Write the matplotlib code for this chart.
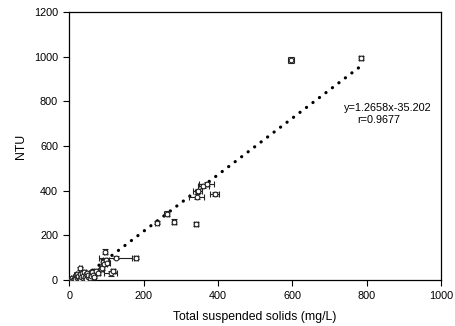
import numpy as np
import matplotlib
matplotlib.use("Agg")
import matplotlib.pyplot as plt

plt.rcParams['font.family'] = ['Liberation Sans', 'DejaVu Sans']

# TSS (mg/L) vs turbidity (NTU), with standard deviations
tss = [5, 8, 10, 12, 15, 16, 18, 20, 22, 24, 25, 28, 30, 30, 32, 35, 36, 38, 40, 42,
       45, 46, 48, 50, 52, 55, 58, 60, 62, 65, 68, 72, 78, 85, 88, 92, 95, 97, 100, 103,
       112, 118, 125, 180, 236, 262, 282, 341, 343, 346, 361, 370, 392, 598, 785]
ntu = [3, 10, 2, 6, 15, 4, 22, 8, 28, 12, 18, 5, 25, 52, 14, 30, 8, 20, 38, 12,
       25, 4, 32, 15, 22, 10, 28, 18, 35, 24, 12, 40, 30, 48, 55, 82, 72, 127, 90, 78,
       30, 42, 100, 100, 257, 297, 262, 250, 373, 398, 420, 430, 386, 985, 995]
tss_sd = [2, 3, 2, 3, 3, 2, 4, 3, 4, 3, 3, 2, 4, 4, 3, 4, 3, 4, 5, 3,
          4, 2, 5, 3, 4, 3, 4, 4, 5, 4, 3, 5, 5, 6, 6, 6, 8, 4, 8, 6,
          18, 6, 45, 6, 6, 6, 6, 6, 20, 12, 15, 20, 12, 8, 6]
ntu_sd = [3, 4, 3, 4, 5, 3, 6, 4, 6, 4, 5, 3, 6, 8, 4, 6, 3, 5, 6, 4,
          6, 3, 6, 4, 6, 4, 6, 5, 8, 6, 4, 8, 8, 8, 8, 10, 10, 12, 10, 10,
          12, 8, 6, 8, 8, 10, 12, 8, 12, 10, 8, 10, 8, 12, 8]

slope = 1.2658
intercept = -35.202
r_value = 0.9677

fig, ax = plt.subplots(figsize=(4.55, 3.26), dpi=100)
fig.subplots_adjust(left=0.152, right=0.969, top=0.963, bottom=0.141)

ax.errorbar(tss, ntu, xerr=tss_sd, yerr=ntu_sd, fmt='o', ms=3.4, mfc='white',
            mec='#222222', mew=0.8, ecolor='#222222', elinewidth=0.8,
            capsize=2.2, capthick=0.8, zorder=3)

# regression line
x_fit = np.array([-intercept / slope, 785])
ax.plot(x_fit, slope * x_fit + intercept, color='black', lw=2.3,
        linestyle=(0, (0.05, 2.5)), dash_capstyle='round', zorder=2)

ax.text(344 / 455, 1 - 108 / 326, 'y=1.2658x-35.202', transform=fig.transFigure,
        fontsize=7.8, va='center')
ax.text(357 / 455, 1 - 120 / 326, 'r=0.9677', transform=fig.transFigure,
        fontsize=7.8, va='center')

ax.set_xlim(0, 1000)
ax.set_ylim(0, 1200)
ax.set_xticks(range(0, 1001, 200))
ax.set_yticks(range(0, 1201, 200))
ax.tick_params(direction='out', length=4, width=0.8, labelsize=7.8, pad=4)
for s in ax.spines.values():
    s.set_linewidth(0.9)

ax.set_xlabel('Total suspended solids (mg/L)', fontsize=8.8, labelpad=7)
ax.set_ylabel('NTU', fontsize=8.8, labelpad=5)

fig.savefig('out.png', dpi=100)
